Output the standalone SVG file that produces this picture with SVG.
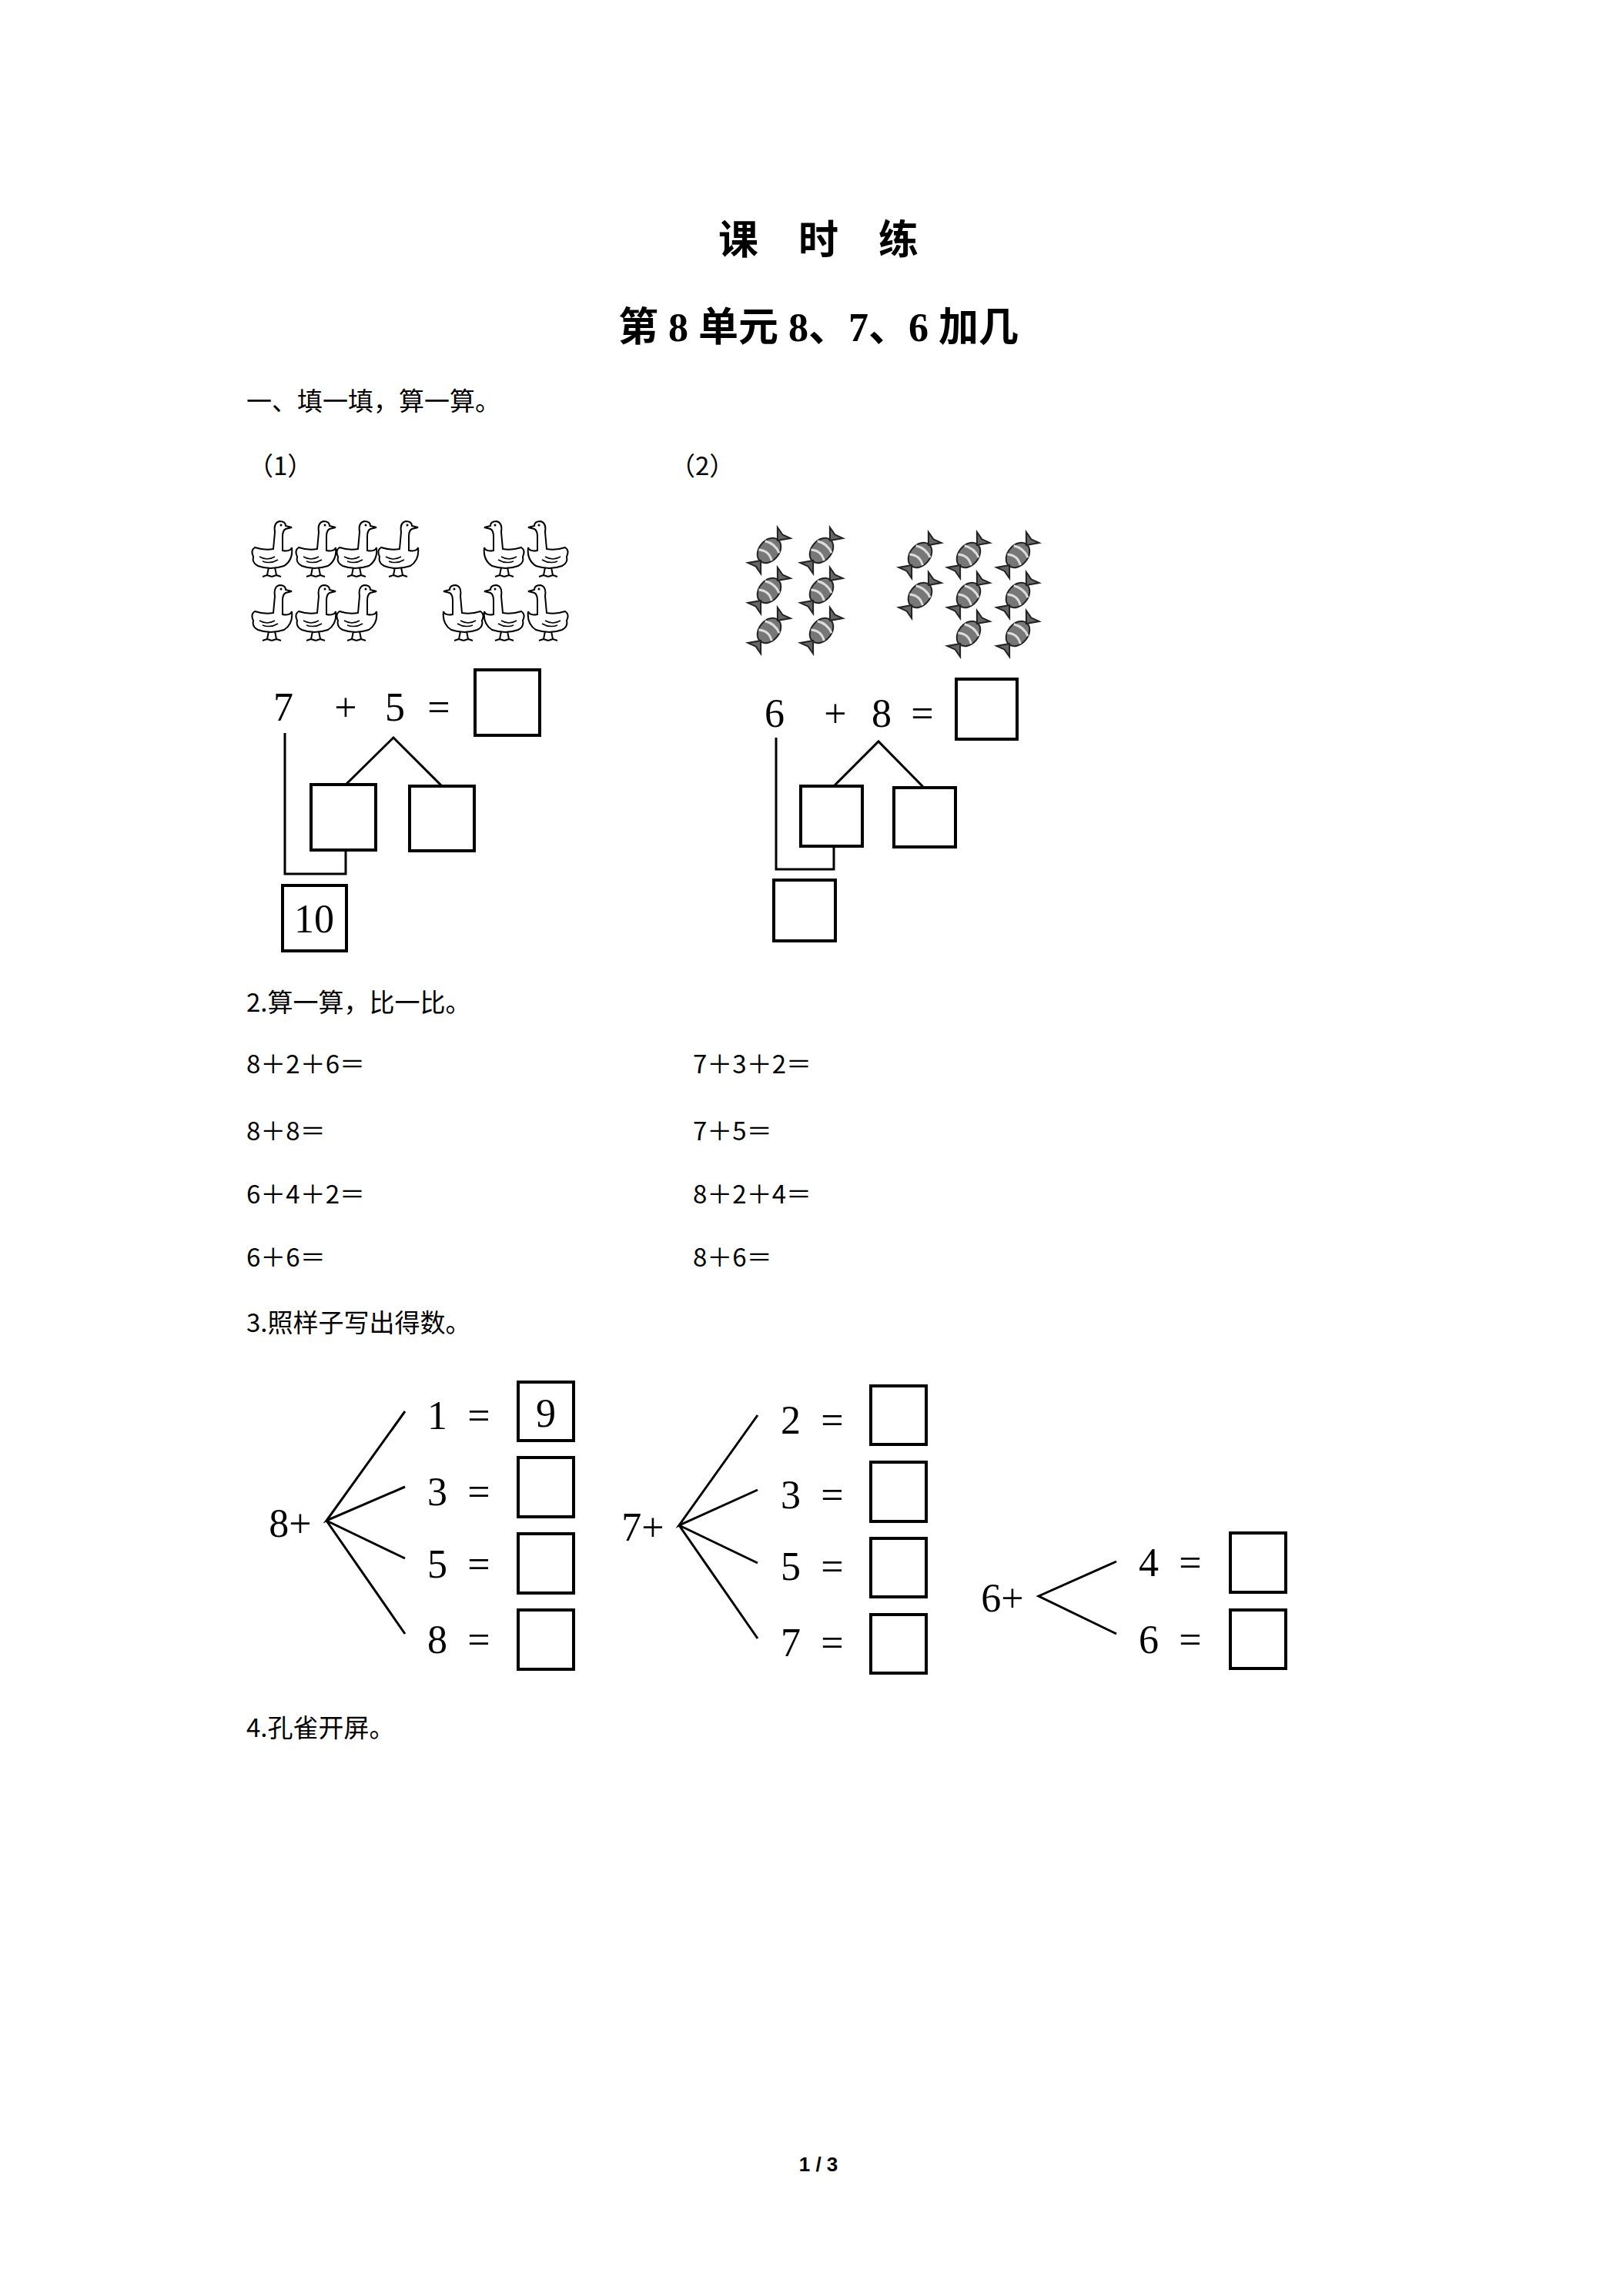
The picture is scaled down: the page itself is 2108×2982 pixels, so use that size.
<svg xmlns="http://www.w3.org/2000/svg" width="2108" height="2982" viewBox="0 0 2108 2982">
<style>
.t{font-family:"Liberation Serif","Noto Sans CJK SC",serif;fill:#000}
.cn{font-family:"Noto Sans CJK SC","Liberation Serif",sans-serif;font-size:33px;fill:#000}
.d{font-family:"Liberation Serif",serif;font-size:52px;fill:#000;text-anchor:middle;dominant-baseline:central}
.b{fill:none;stroke:#000;stroke-width:4}
.l{fill:none;stroke:#000;stroke-width:3}
.g{fill:#fff;stroke:#000;stroke-width:2}
</style>
<defs>
<symbol id="goose" viewBox="0 0 64 80" width="64" height="80" overflow="visible">
<path class="g" d="M8,52 Q4,44 10,40 Q22,44 34,42 L36,20 Q34,8 42,6 Q50,6 50,12 L58,14 L50,16 Q46,18 46,26 L46,44 Q56,46 58,40 Q60,56 48,64 Q30,70 14,64 Q6,60 8,52 Z"/>
<path class="l" style="stroke-width:1.5" d="M16,52 Q26,58 36,52 M20,58 Q30,62 40,56"/>
<circle cx="44" cy="11" r="1.5"/>
<path class="l" style="stroke-width:2" d="M28,66 L26,76 L20,78 M26,76 L32,78 M36,66 L38,76 L32,78 M38,76 L44,78"/>
</symbol>
<symbol id="candy" viewBox="-30 -30 60 60" width="60" height="60" overflow="visible">
<g transform="rotate(-50)">
<ellipse cx="0" cy="0" rx="18" ry="13" fill="#777" stroke="#222" stroke-width="2"/>
<path d="M-8,-11 Q0,0 -8,11 M6,-12 Q12,0 6,12" fill="none" stroke="#ddd" stroke-width="3"/>
<path d="M17,0 L30,-11 L27,0 L30,11 Z M-17,0 L-30,-11 L-27,0 L-30,11 Z" fill="#666" stroke="#222" stroke-width="2"/>
</g>
</symbol>
</defs>

<g id="title">
<text class="t" x="1063" y="330" font-size="52" font-weight="bold" text-anchor="middle" font-family="Noto Sans CJK SC">课　时　练</text>
<text class="t" x="1063" y="443" font-size="52" font-weight="bold" text-anchor="middle" font-family="Noto Sans CJK SC">第 8 单元  8、7、6 加几</text>
</g>

<g id="sec1">
<text class="cn" x="320" y="533">一、填一填，算一算。</text>
<text class="cn" x="322" y="617">（1）</text>
<text class="cn" x="870" y="617">（2）</text>
</g>

<g id="geese">
<use href="#goose" x="321" y="671"/><use href="#goose" x="378" y="671"/><use href="#goose" x="431" y="671"/><use href="#goose" x="485" y="671"/>
<use href="#goose" x="321" y="754"/><use href="#goose" x="378" y="754"/><use href="#goose" x="431" y="754"/>
<use href="#goose" transform="translate(1310,0) scale(-1,1)" x="623" y="671"/><use href="#goose" transform="translate(1424,0) scale(-1,1)" x="680" y="671"/>
<use href="#goose" transform="translate(1204,0) scale(-1,1)" x="570" y="754"/><use href="#goose" transform="translate(1310,0) scale(-1,1)" x="623" y="754"/><use href="#goose" transform="translate(1424,0) scale(-1,1)" x="680" y="754"/>
</g>

<g id="candies">
<use href="#candy" x="969" y="685"/><use href="#candy" x="1037" y="685"/>
<use href="#candy" x="969" y="737"/><use href="#candy" x="1037" y="737"/>
<use href="#candy" x="969" y="789"/><use href="#candy" x="1037" y="789"/>
<use href="#candy" x="1165" y="691"/><use href="#candy" x="1228" y="691"/><use href="#candy" x="1292" y="691"/>
<use href="#candy" x="1165" y="743"/><use href="#candy" x="1228" y="743"/><use href="#candy" x="1292" y="743"/>
<use href="#candy" x="1228" y="793"/><use href="#candy" x="1292" y="793"/>
</g>

<g id="eq1">
<text class="d" x="368" y="918">7</text><text class="d" x="449" y="918">+</text><text class="d" x="513" y="918">5</text><text class="d" x="570" y="918">=</text>
<rect class="b" x="617" y="870" width="84" height="85"/>
<rect class="b" x="404" y="1019" width="84" height="85"/>
<rect class="b" x="532" y="1021" width="84" height="84"/>
<rect class="b" x="367" y="1150" width="83" height="85"/>
<text class="d" x="408" y="1193" font-size="48">10</text>
</g>
<g id="eq2">
<text class="d" x="1006" y="926">6</text><text class="d" x="1085" y="926">+</text><text class="d" x="1145" y="926">8</text><text class="d" x="1198" y="926">=</text>
<rect class="b" x="1242" y="882" width="79" height="78"/>
<rect class="b" x="1040" y="1021" width="80" height="78"/>
<rect class="b" x="1161" y="1023" width="80" height="77"/>
<rect class="b" x="1005" y="1143" width="80" height="79"/>
</g>

<g id="connectors">
<path class="l" d="M370,952 V1135 H449 V1104"/>
<path class="l" d="M449,1019 L511,958 L573,1020"/>
<path class="l" d="M1008,958 V1129 H1083 V1099"/>
<path class="l" d="M1083,1021 L1141,963 L1200,1023"/>
<path class="l" d="M526,1833 L424,1975 L526,1931 M424,1975 L526,2024 M424,1975 L526,2122"/>
<path class="l" d="M984,1838 L882,1981 L984,1935 M882,1981 L984,2030 M882,1981 L984,2128"/>
<path class="l" d="M1450,2028 L1349,2073 L1450,2122"/>
</g>

<g id="sec2" class="cn">
<text x="320" y="1314">2.算一算，比一比。</text>
<text x="320" y="1394">8＋2＋6＝</text><text x="900" y="1394">7＋3＋2＝</text>
<text x="320" y="1481">8＋8＝</text><text x="900" y="1481">7＋5＝</text>
<text x="320" y="1563">6＋4＋2＝</text><text x="900" y="1563">8＋2＋4＝</text>
<text x="320" y="1645">6＋6＝</text><text x="900" y="1645">8＋6＝</text>
<text x="320" y="1730">3.照样子写出得数。</text>
</g>

<g id="fan8">
<text class="d" x="377" y="1978">8+</text>
<text class="d" x="568" y="1838">1</text><text class="d" x="622" y="1838">=</text>
<text class="d" x="568" y="1937">3</text><text class="d" x="622" y="1937">=</text>
<text class="d" x="568" y="2031">5</text><text class="d" x="622" y="2031">=</text>
<text class="d" x="568" y="2129">8</text><text class="d" x="622" y="2129">=</text>
<rect class="b" x="673" y="1795" width="72" height="76"/><text class="d" x="709" y="1835">9</text>
<rect class="b" x="673" y="1893" width="72" height="77"/>
<rect class="b" x="673" y="1992" width="72" height="77"/>
<rect class="b" x="673" y="2091" width="72" height="77"/>
</g>
<g id="fan7">
<text class="d" x="835" y="1983">7+</text>
<text class="d" x="1027" y="1844">2</text><text class="d" x="1081" y="1844">=</text>
<text class="d" x="1027" y="1941">3</text><text class="d" x="1081" y="1941">=</text>
<text class="d" x="1027" y="2034">5</text><text class="d" x="1081" y="2034">=</text>
<text class="d" x="1027" y="2133">7</text><text class="d" x="1081" y="2133">=</text>
<rect class="b" x="1131" y="1800" width="72" height="76"/>
<rect class="b" x="1131" y="1899" width="72" height="77"/>
<rect class="b" x="1131" y="1998" width="72" height="76"/>
<rect class="b" x="1131" y="2097" width="72" height="76"/>
</g>
<g id="fan6">
<text class="d" x="1302" y="2075">6+</text>
<text class="d" x="1492" y="2029">4</text><text class="d" x="1546" y="2029">=</text>
<text class="d" x="1492" y="2129">6</text><text class="d" x="1546" y="2129">=</text>
<rect class="b" x="1598" y="1991" width="72" height="77"/>
<rect class="b" x="1598" y="2091" width="72" height="76"/>
</g>

<g id="sec4">
<text class="cn" x="320" y="2256">4.孔雀开屏。</text>
<text x="1063" y="2820" font-family="Liberation Sans,sans-serif" font-size="26" font-weight="bold" text-anchor="middle">1 / 3</text>
</g>
</svg>
